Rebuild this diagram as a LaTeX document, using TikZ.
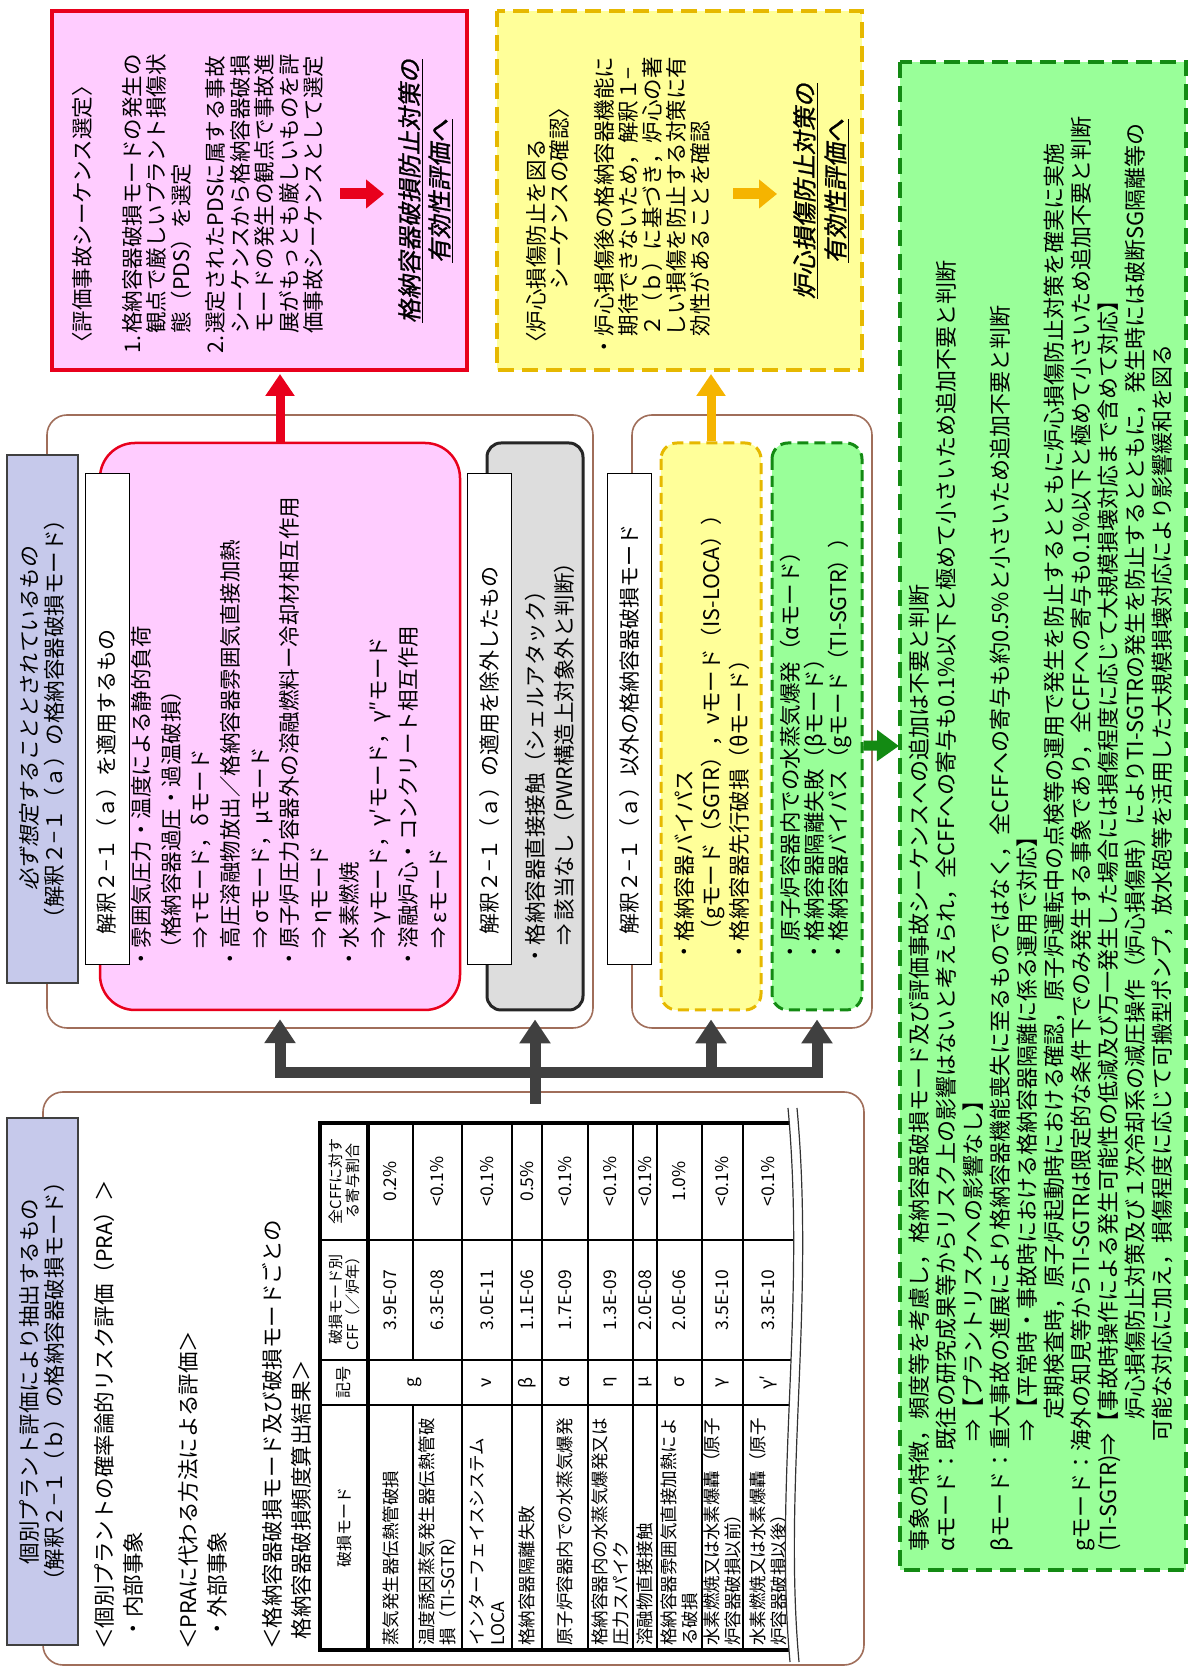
\documentclass[tikz,border=0pt]{standalone}
\usepackage{fontspec}
\setmainfont{Noto Sans CJK JP}
\newfontfamily\jpslant{Noto Sans CJK JP}[FakeSlant=0.18]
\newfontfamily\jpbold{Noto Sans CJK JP}[FakeSlant=0.18,FakeBold=1.2]
\usetikzlibrary{arrows.meta,calc}

\definecolor{pinkfill}{HTML}{FFCCFF}
\definecolor{redline}{HTML}{E8001C}
\definecolor{yelfill}{HTML}{FFFF99}
\definecolor{yelline}{HTML}{E6B800}
\definecolor{orgarrow}{HTML}{F5B400}
\definecolor{grnfill}{HTML}{99FF99}
\definecolor{grnline}{HTML}{138A13}
\definecolor{grayfill}{HTML}{DDDDDD}
\definecolor{hdrfill}{HTML}{C6C9EB}
\definecolor{brownline}{HTML}{A06E5A}
\definecolor{arrowgray}{HTML}{404040}

\newcommand{\setfs}[2]{\fontsize{#1}{#2}\selectfont}
\newcommand{\ind}{\hspace*{1em}}
\newcommand{\itemno}[1]{\makebox[20pt][l]{#1}}

\tikzset{
  txt/.style={inner sep=0pt, align=left},
  cell/.style={txt, font=\setfs{17.5}{21}},
  body/.style={txt, anchor=north west},
  grpbox/.style={draw=brownline, line width=1.6pt, rounded corners=20pt},
  hdrbox/.style={draw=black!75, line width=1.2pt, fill=hdrfill, align=center, inner sep=0pt, font=\setfs{21.5}{25}},
  lblbox/.style={draw=black, line width=1pt, fill=white, text width=431pt, inner xsep=30pt, inner ysep=0pt, minimum height=44pt, align=left, font=\setfs{21}{25}},
  evalstyle/.style={draw=redline, line width=3.5pt, fill=pinkfill},
  corestyle/.style={draw=yelline, line width=3.5pt, fill=yelfill, dash pattern=on 16pt off 8pt},
  judgestyle/.style={draw=grnline, line width=4.5pt, fill=grnfill, dash pattern=on 16pt off 8pt},
  pinkstyle/.style={draw=redline, line width=2.5pt, fill=pinkfill, rounded corners=35pt},
  graystyle/.style={draw=black!85, line width=3pt, fill=grayfill, rounded corners=14pt},
  yelstyle/.style={draw=yelline, line width=3pt, fill=yelfill, dash pattern=on 11pt off 6pt, rounded corners=16pt},
  grnstyle/.style={draw=grnline, line width=3pt, fill=grnfill, dash pattern=on 11pt off 6pt, rounded corners=16pt},
  redarrow/.style={draw=redline, line width=9pt, -{Triangle[width=28pt,length=22pt]}},
  yelarrow/.style={draw=orgarrow, line width=9pt, -{Triangle[width=28pt,length=22pt]}},
  grayarrow/.style={draw=arrowgray, line width=11pt, -{Triangle[width=30pt,length=24pt]}},
  grnarrow/.style={draw=grnline, line width=10pt, -{Triangle[width=30pt,length=22pt]}},
}

\begin{document}
\begin{tikzpicture}[x=1pt, y=1pt, rotate=90, transform shape]
\useasboundingbox (0,0) rectangle (1674,-1194);
\fill[white] (0,0) rectangle (1674,-1194);

% group frames
\node[grpbox, minimum width=573pt, minimum height=821pt] (grpT) at (295.5,-453.5) {};
\node[grpbox, minimum width=613pt, minimum height=546pt] (grpA) at (952.5,-320) {};
\node[grpbox, minimum width=613pt, minimum height=240pt] (grpB) at (952.5,-752) {};

% result boxes
\node[evalstyle, minimum width=359pt, minimum height=415pt] (evalbox) at (1483.5,-259.5) {};
\node[corestyle, minimum width=359pt, minimum height=365pt] (corebox) at (1483.5,-679.5) {};
\node[judgestyle, minimum width=1508pt, minimum height=286pt] (judgebox) at (858,-1043) {};

% group A
\node[hdrbox, minimum width=528pt, minimum height=71pt] (hdrA) at (955,-42.5) {{\jpslant 必ず想定することとされているもの}\\（解釈２−１（ａ）の格納容器破損モード）};
\node[pinkstyle, minimum width=567pt, minimum height=360pt] (pinkA) at (947.5,-280) {};
\node[graystyle, minimum width=567pt, minimum height=96pt] (grayA) at (947.5,-535) {};
\node[lblbox] (lblA) at (954.5,-107) {解釈２−１（ａ）を適用するもの};
\node[lblbox] (lblX) at (954.5,-489.5) {解釈２−１（ａ）の適用を除外したもの};
\node[body, font=\setfs{21.5}{29.7}] (pinkAtxt) at (704,-131) {・雰囲気圧力・温度による静的負荷\\
  \hspace*{0.5em}（格納容器過圧・過温破損）\\
  \ind{}⇒\,τモード，δモード\\
  ・高圧溶融物放出／格納容器雰囲気直接加熱\\
  \ind{}⇒\,σモード，μモード\\
  ・原子炉圧力容器外の溶融燃料ー冷却材相互作用\\
  \ind{}⇒\,ηモード\\
  ・水素燃焼\\
  \ind{}⇒\,γモード，γ′モード，γ″モード\\
  ・溶融炉心・コンクリート相互作用\\
  \ind{}⇒\,εモード};
\node[body, font=\setfs{21.5}{29}] (grayAtxt) at (707,-525) {・格納容器直接接触（シェルアタック）\\
  \ind{}⇒\,該当なし（PWR構造上対象外と判断）};

% group B
\node[lblbox] (lblB) at (954.5,-629.5) {解釈２−１（ａ）以外の格納容器破損モード};
\node[yelstyle, minimum width=567pt, minimum height=100pt] (yelB) at (947.5,-711) {};
\node[grnstyle, minimum width=567pt, minimum height=90pt] (grnB) at (947.5,-817) {};
\node[body, font=\setfs{21.5}{27.5}] (yelBtxt) at (711,-674) {・格納容器バイパス\\
  \ind{}（gモード（SGTR），νモード（IS-LOCA））\\
  ・格納容器先行破損（θモード）};
\node[body, font=\setfs{21.5}{24}] (grnBtxt) at (711,-780) {・原子炉容器内での水蒸気爆発（αモード）\\
  ・格納容器隔離失敗（βモード）\\
  ・格納容器バイパス（gモード（TI-SGTR））};

% evaluation sequence box
\node[txt, anchor=west, font=\setfs{21.5}{25}] (evaltitle) at (1320,-82) {〈評価事故シーケンス選定〉};
\node[body, font=\setfs{21.5}{24.5}] (evalsteps) at (1320,-122) {\itemno{1.}格納容器破損モードの発生の\\
  \hspace*{20pt}観点で厳しいプラント損傷状\\
  \hspace*{20pt}態（PDS）を選定\\[10pt]
  \itemno{2.}選定されたPDSに属する事故\\
  \hspace*{20pt}シーケンスから格納容器破損\\
  \hspace*{20pt}モードの発生の観点で事故進\\
  \hspace*{20pt}展がもっとも厳しいものを評\\
  \hspace*{20pt}価事故シーケンスとして選定};
\node[txt, anchor=north, align=center, font=\jpbold\setfs{24}{30}] (evalnext) at (1483,-398) {\underline{格納容器破損防止対策の}\\\underline{有効性評価へ}};
\coordinate (evalarrS) at (1480,-340);
\coordinate (evalarrE) at (1480,-384);
\draw[draw=redline, line width=11pt, -{Triangle[width=28pt,length=18pt]}] (evalarrS) -- (evalarrE);

% core damage box
\node[body, font=\setfs{21.5}{23}] (coretitle) at (1320,-526) {〈炉心損傷防止を図る\\\hspace*{3em}シーケンスの確認〉};
\node[body, font=\setfs{21.5}{24}] (coresteps) at (1316,-594) {・炉心損傷後の格納容器機能に\\
  \ind{}期待できないため，解釈１−\\
  \ind{}２（ｂ）に基づき，炉心の著\\
  \ind{}しい損傷を防止する対策に有\\
  \ind{}効性があることを確認};
\node[txt, anchor=north, align=center, font=\jpbold\setfs{24}{31}] (corenext) at (1483,-793) {\underline{炉心損傷防止対策の}\\\underline{有効性評価へ}};
\coordinate (corearrS) at (1480,-733);
\coordinate (corearrE) at (1480,-777);
\draw[draw=orgarrow, line width=11pt, -{Triangle[width=28pt,length=18pt]}] (corearrS) -- (corearrE);

% judgement box
\node[body, font=\setfs{22}{27}] (judgetxt) at (122,-909) {事象の特徴，頻度等を考慮し，格納容器破損モード及び評価事故シーケンスへの追加は不要と判断\\
  αモード：既往の研究成果等からリスク上の影響はないと考えられ，全CFFへの寄与も0.1\%以下と極めて小さいため追加不要と判断\\
  \hspace*{5em}⇒【プラントリスクへの影響なし】\\
  βモード：重大事故の進展により格納容器機能喪失に至るものではなく，全CFFへの寄与も約0.5\%と小さいため追加不要と判断\\
  \hspace*{5em}⇒【平常時・事故時における格納容器隔離に係る運用で対応】\\
  \hspace*{6em}定期検査時，原子炉起動時における確認，原子炉運転中の点検等の運用で発生を防止するとともに炉心損傷防止対策を確実に実施\\
  gモード：海外の知見等からTI-SGTRは限定的な条件下でのみ発生する事象であり，全CFFへの寄与も0.1\%以下と極めて小さいため追加不要と判断\\
  (TI-SGTR)⇒【事故時操作による発生可能性の低減及び万一発生した場合には損傷程度に応じて大規模損壊対応まで含めて対応】\\
  \hspace*{6em}炉心損傷防止対策及び１次冷却系の減圧操作（炉心損傷時）によりTI-SGTRの発生を防止するとともに，発生時には破断SG隔離等の\\
  \hspace*{5em}可能な対応に加え，損傷程度に応じて可搬型ポンプ，放水砲等を活用した大規模損壊対応により影響緩和を図る};

% group T
\node[hdrbox, minimum width=527pt, minimum height=71pt] (hdrT) at (292.5,-42.5) {個別プラント評価により抽出するもの\\（解釈２−１（ｂ）の格納容器破損モード）};
\node[body, font=\setfs{21.5}{29}] (pratxt) at (24,-94) {＜個別プラントの確率論的リスク評価（PRA）＞\\
  \hspace*{0.5em}・内部事象\\[26pt]
  ＜PRAに代わる方法による評価＞\\
  \hspace*{0.5em}・外部事象\\[26pt]
  ＜格納容器破損モード及び破損モードごとの\\
  \hspace*{0.5em}格納容器破損頻度算出結果＞};

% table
\draw[line width=1.2pt] (24,-413) -- (269,-413) (314,-413) -- (551,-413)
  (24,-462) -- (551,-462) (24,-512) -- (551,-512) (24,-542) -- (551,-542)
  (24,-588) -- (551,-588) (24,-633) -- (551,-633) (24,-657) -- (551,-657)
  (24,-702) -- (551,-702) (24,-743) -- (551,-743)
  (269,-320) -- (269,-800) (314,-320) -- (314,-800) (434,-320) -- (434,-800);
\draw[line width=3.5pt] (24,-800) -- (24,-320) -- (551,-320) -- (551,-800);
\draw[line width=3.5pt] (24,-368) -- (551,-368);
\node[txt, align=center, font=\setfs{16}{18}] (h1) at (146.5,-344) {破損モード};
\node[txt, align=center, font=\setfs{16}{18}] (h2) at (291.5,-344) {記号};
\node[txt, align=center, font=\setfs{15}{17}] (h3) at (374,-344) {破損モード別\\CFF（／炉年）};
\node[txt, align=center, font=\setfs{15}{17}] (h4) at (492.5,-344) {全CFFに対す\\る寄与割合};
\node[cell, anchor=west] (m1) at (28,-390.5) {蒸気発生器伝熱管破損};
\node[cell, anchor=west] (m2) at (28,-437.5) {温度誘因蒸気発生器伝熱管破\\損（TI-SGTR）};
\node[cell, anchor=west] (m3) at (28,-487) {インターフェイスシステム\\LOCA};
\node[cell, anchor=west] (m4) at (28,-527) {格納容器隔離失敗};
\node[cell, anchor=west] (m5) at (28,-565) {原子炉容器内での水蒸気爆発};
\node[cell, anchor=west] (m6) at (28,-610.5) {格納容器内の水蒸気爆発又は\\圧力スパイク};
\node[cell, anchor=west] (m7) at (28,-645) {溶融物直接接触};
\node[cell, anchor=west] (m8) at (28,-679.5) {格納容器雰囲気直接加熱によ\\る破損};
\node[cell, anchor=west] (m9) at (28,-722.5) {水素燃焼又は水素爆轟（原子\\炉容器破損以前）};
\node[cell, anchor=west] (m10) at (28,-768) {水素燃焼又は水素爆轟（原子\\炉容器破損以後）};
\node[cell] (s1) at (291.5,-415) {g};
\node[cell] (s3) at (291.5,-487) {ν};
\node[cell] (s4) at (291.5,-527) {β};
\node[cell] (s5) at (291.5,-565) {α};
\node[cell] (s6) at (291.5,-610.5) {η};
\node[cell] (s7) at (291.5,-645) {μ};
\node[cell] (s8) at (291.5,-679.5) {σ};
\node[cell] (s9) at (291.5,-722.5) {γ};
\node[cell] (s10) at (291.5,-768) {γ′};
\node[cell] (c1) at (374,-390.5) {3.9E-07};
\node[cell] (c2) at (374,-437.5) {6.3E-08};
\node[cell] (c3) at (374,-487) {3.0E-11};
\node[cell] (c4) at (374,-527) {1.1E-06};
\node[cell] (c5) at (374,-565) {1.7E-09};
\node[cell] (c6) at (374,-610.5) {1.3E-09};
\node[cell] (c7) at (374,-645) {2.0E-08};
\node[cell] (c8) at (374,-679.5) {2.0E-06};
\node[cell] (c9) at (374,-722.5) {3.5E-10};
\node[cell] (c10) at (374,-768) {3.3E-10};
\node[cell] (p1) at (492.5,-390.5) {0.2\%};
\node[cell] (p2) at (492.5,-437.5) {<0.1\%};
\node[cell] (p3) at (492.5,-487) {<0.1\%};
\node[cell] (p4) at (492.5,-527) {0.5\%};
\node[cell] (p5) at (492.5,-565) {<0.1\%};
\node[cell] (p6) at (492.5,-610.5) {<0.1\%};
\node[cell] (p7) at (492.5,-645) {<0.1\%};
\node[cell] (p8) at (492.5,-679.5) {1.0\%};
\node[cell] (p9) at (492.5,-722.5) {<0.1\%};
\node[cell] (p10) at (492.5,-768) {<0.1\%};
% break of the table
\fill[white] (12,-790) .. controls (190,-774) and (370,-806) .. (566,-788) -- (566,-835) -- (12,-835) -- cycle;
\draw[line width=1.2pt, black!80] (12,-790) .. controls (190,-774) and (370,-806) .. (566,-788);
\draw[line width=1.2pt, black!80] (12,-799) .. controls (190,-783) and (370,-815) .. (566,-797);

% arrows
\coordinate (evaltip) at (1300,-280);
\coordinate (coretip) at (1300,-711);
\draw[redarrow] (pinkA.east) -- (evaltip);
\draw[yelarrow] (yelB.east) -- (coretip);
\coordinate (stemfoot) at (570,-535);
\coordinate (barL) at (601,-280);
\coordinate (barY) at (601,-711);
\coordinate (barR) at (601,-817);
\draw[grayarrow, shorten >=8pt] (barR) -- (barL) -- (pinkA.west);
\draw[grayarrow, shorten >=8pt] (barL) -- (barR) -- (grnB.west);
\draw[grayarrow, shorten >=8pt] (barY) -- (yelB.west);
\draw[grayarrow, shorten >=8pt] (stemfoot) -- (grayA.west);
\coordinate (judgein) at (928,-899);
\draw[grnarrow] ($(grnB.south)+(-19,0)$) -- (judgein);
\end{tikzpicture}
\end{document}
